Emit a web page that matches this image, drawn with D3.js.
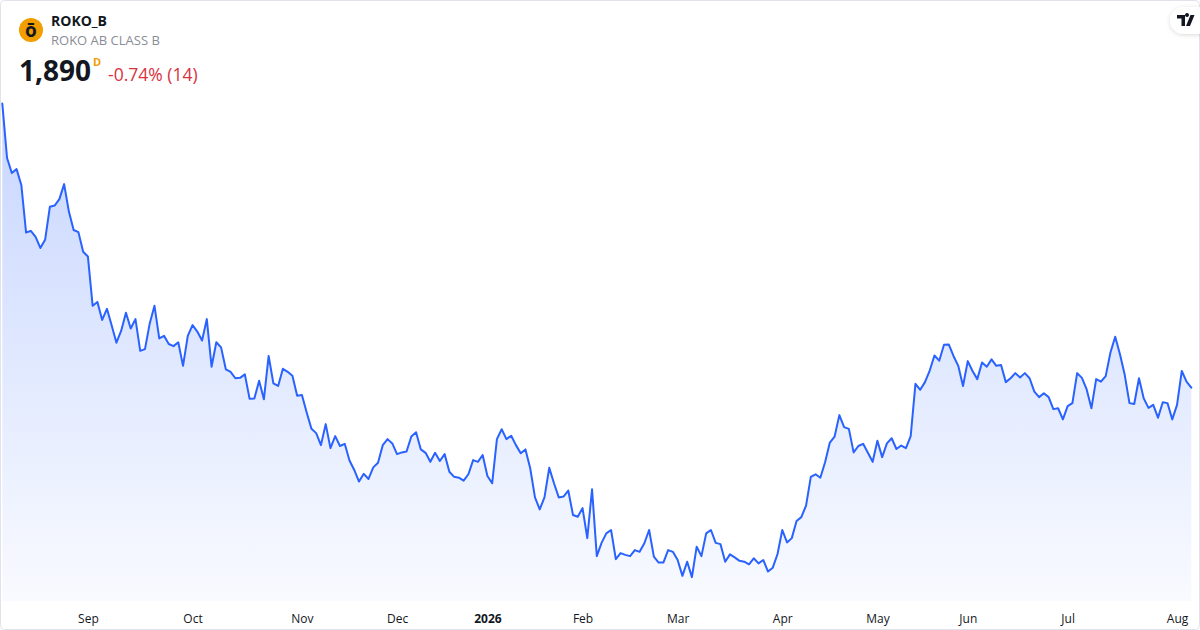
<!DOCTYPE html>
<html>
<head>
<meta charset="utf-8">
<script src="https://cdn.jsdelivr.net/npm/d3@7"></script>
<style>
  html, body { margin: 0; padding: 0; background: #ffffff; }
  svg { display: block; font-family: "Open Sans", "Noto Sans", sans-serif; }
</style>
</head>
<body>
<svg id="chart" width="1200" height="630"></svg>
<script>
// ---- Data ----
const symbol = "ROKO_B";
const fullName = "ROKO AB CLASS B";
const lastPrice = "1,890";
const changeText = "-0.74% (14)";
const startDate = "2025-08-06";
const holidays = ["2025-12-24","2025-12-25","2025-12-26","2025-12-31","2026-01-01","2026-01-06",
                  "2026-04-03","2026-04-06","2026-05-01","2026-05-14","2026-06-19"];
const monthLabels = ["Sep","Oct","Nov","Dec","2026","Feb","Mar","Apr","May","Jun","Jul","Aug"];
// daily closes (SEK), Aug 2025 -> Aug 2026
const closes = [
  2553,2426,2391,2400,2363,2252,2256,2242,2216,2235,2312,2315,2330,2365,2301,2258,2253,2207,2196,2081,
  2090,2048,2074,2035,1995,2023,2065,2028,2050,1976,1980,2040,2081,2005,2011,1992,1987,1996,1941,2011,
  2036,2021,2000,2050,1939,1996,
  1984,1933,1927,1912,1913,1921,1864,1865,1906,1863,1964,1900,1894,1934,1927,1918,1871,1873,1832,1794,
  1784,1756,1805,1749,1777,1754,1759,1720,1698,1671,1689,1677,1704,1715,1756,1770,1760,1735,1739,1741,
  1776,1786,
  1746,1738,1717,1738,1719,1735,1694,1682,1680,1673,1688,1721,1717,1733,1684,1667,1770,1793,1770,1778,
  1756,1737,1746,1702,1634,1606,1634,1703,1667,1634,1636,1650,1593,1589,1609,1539,1653,1497,1528,1550,
  1558,1490,1504,1500,1497,
  1511,1507,1527,1558,1496,1482,1482,1511,1507,1488,1451,1484,1448,1519,1497,1550,1558,1528,1525,1484,
  1501,1494,1486,1484,1478,1492,1480,1488,1461,1470,1502,1558,1529,1539,1579,1588,1615,1682,1688,1680,
  1716,1762,1776,1826,
  1798,1794,1739,1754,1759,1738,1717,1766,1728,1760,1772,1747,1755,1749,1777,1899,1885,1903,1930,1965,
  1953,1990,1991,1964,1941,1894,1952,1929,1910,1949,1939,1956,1941,1943,1903,1912,1924,1914,1924,1912,
  1881,1868,1877,1868,
  1840,1842,1816,1847,1854,1924,1913,1886,1842,1910,1904,1917,1972,2009,1968,1920,1854,1852,1912,1865,
  1843,1850,1820,1856,1854,1816,1850,1929,1904,1890
];

// ---- Trading-day calendar ----
const parse = d3.timeParse("%Y-%m-%d");
const fmt = d3.timeFormat("%Y-%m-%d");
const holidaySet = new Set(holidays);
const dates = [];
let d = parse(startDate);
while (dates.length < closes.length) {
  const wd = d.getDay();
  if (wd !== 0 && wd !== 6 && !holidaySet.has(fmt(d))) dates.push(new Date(d));
  d = d3.timeDay.offset(d, 1);
}
const data = closes.map((v, i) => ({ i, date: dates[i], v }));
const tickIdx = [];
for (let i = 1; i < dates.length; i++) {
  if (dates[i].getMonth() !== dates[i - 1].getMonth()) tickIdx.push(i);
}

// ---- Layout ----
const svg = d3.select("#chart");
const W = 1200, H = 630;
const plotBottom = 601;

const x = d3.scaleLinear().domain([0, closes.length - 1]).range([2.3, 1191.3]);
const y = d3.scaleLinear().domain([1400, 2600]).range([597.7, 83.4]);

const defs = svg.append("defs");
const grad = defs.append("linearGradient")
  .attr("id", "areaGrad").attr("gradientUnits", "userSpaceOnUse")
  .attr("x1", 0).attr("x2", 0).attr("y1", y(d3.max(closes))).attr("y2", plotBottom);
grad.append("stop").attr("offset", "0%").attr("stop-color", "#2962ff").attr("stop-opacity", 0.26);
grad.append("stop").attr("offset", "100%").attr("stop-color", "#2962ff").attr("stop-opacity", 0.03);

const shadow = defs.append("filter").attr("id", "shadow").attr("x", "-50%").attr("y", "-50%").attr("width", "200%").attr("height", "200%");
shadow.append("feDropShadow").attr("dx", 0).attr("dy", 1).attr("stdDeviation", 2)
  .attr("flood-color", "#000").attr("flood-opacity", 0.15);

// background
svg.append("rect").attr("x", 0.5).attr("y", 0.5).attr("width", W - 1).attr("height", H - 1)
  .attr("rx", 4).attr("fill", "#ffffff").attr("stroke", "#e0e3eb");

// area
const area = d3.area().x(p => x(p.i)).y0(plotBottom).y1(p => y(p.v));
svg.append("path").datum(data).attr("d", area).attr("fill", "url(#areaGrad)");

// line
const line = d3.line().x(p => x(p.i)).y(p => y(p.v));
svg.append("path").datum(data).attr("d", line)
  .attr("fill", "none").attr("stroke", "#2962ff").attr("stroke-width", 2)
  .attr("stroke-linejoin", "round").attr("stroke-linecap", "round");

// x axis
const xAxis = d3.axisBottom(x).tickValues(tickIdx).tickSize(0).tickPadding(0)
  .tickFormat((v, k) => monthLabels[k]);
const gx = svg.append("g").attr("transform", `translate(0,${614})`).call(xAxis);
gx.select(".domain").remove();
gx.selectAll("text")
  .attr("font-family", "'Open Sans', 'Noto Sans', sans-serif")
  .attr("font-size", 12).attr("fill", "#131722")
  .attr("font-weight", (v, k) => monthLabels[k] === "2026" ? 700 : 400);

// ---- Header ----
const hdr = svg.append("g");
hdr.append("circle").attr("cx", 31).attr("cy", 30).attr("r", 12).attr("fill", "#f29d00");
hdr.append("text").attr("x", 31).attr("y", 37).attr("text-anchor", "middle")
  .attr("font-size", 19).attr("font-weight", 700).attr("fill", "#131722").text("ō");
hdr.append("text").attr("x", 51).attr("y", 26).attr("font-size", 14).attr("font-weight", 700)
  .attr("fill", "#131722").text(symbol);
hdr.append("text").attr("x", 51).attr("y", 45).attr("font-size", 13)
  .attr("fill", "#8a8d96").text(fullName);
hdr.append("text").attr("x", 19).attr("y", 81).attr("font-size", 28).attr("font-weight", 700)
  .attr("fill", "#131722").text(lastPrice);
hdr.append("text").attr("x", 93).attr("y", 66).attr("font-size", 11).attr("font-weight", 700)
  .attr("fill", "#f29d00").text("D");
hdr.append("text").attr("x", 108).attr("y", 81).attr("font-size", 17.5)
  .attr("fill", "#d9313d").text(changeText);

// TradingView badge
const tv = svg.append("g");
tv.append("rect").attr("x", 1170).attr("y", 7).attr("width", 42).attr("height", 27).attr("rx", 13.5)
  .attr("fill", "#ffffff").attr("filter", "url(#shadow)");
tv.append("path").attr("fill", "#131722")
  .attr("d", "M1177,15 h8 v11 h-3.5 v-7.5 h-4.5 z M1187,17 a2,2 0 1,1 0.01,0 z M1190.5,15 h4 l-4.5,11 h-4 z");
</script>
</body>
</html>
